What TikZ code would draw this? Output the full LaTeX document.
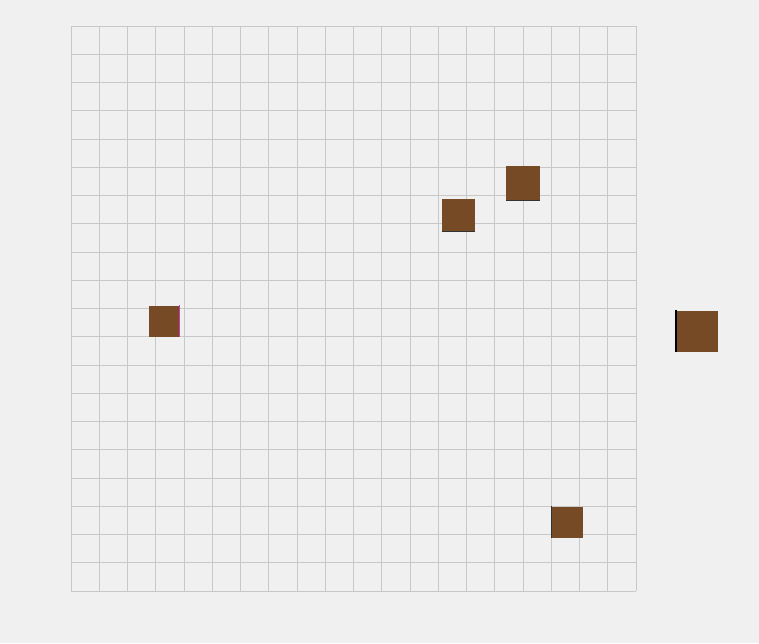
\documentclass[tikz,border=0pt]{standalone}
\usepackage{tikz}
\usetikzlibrary{positioning}
\definecolor{bg}{RGB}{240,240,240}
\definecolor{gridc}{RGB}{200,200,200}
\definecolor{crate}{RGB}{118,74,36}
\definecolor{edgepink}{RGB}{200,60,170}

\tikzset{cratebox/.style={fill=crate,inner sep=0pt,minimum width=#1,minimum height=#1}}

\begin{document}
\begin{tikzpicture}[x=0.02cm,y=-0.02cm]
  \fill[bg] (0,0) rectangle (759,643);
  \useasboundingbox (0,0) rectangle (759,643);
  \foreach \i in {0,...,20} {
    \draw[gridc,line width=0.4pt] (71+\i*28.25,26) -- (71+\i*28.25,591);
    \draw[gridc,line width=0.4pt] (71,26+\i*28.25) -- (636,26+\i*28.25);
  }
  \node[cratebox=0.66cm] (crateA) at (458.5,215) {};
  \node[cratebox=0.67cm] (crateB) at (523,183) {};
  \node[cratebox=0.62cm] (crateC) at (164,321) {};
  \node[cratebox=0.82cm] (crateD) at (697,331) {};
  \node[cratebox=0.62cm] (crateE) at (567.5,522) {};
  \draw[black!80,line width=0.6pt] (crateA.south west) -- (crateA.south east);
  \draw[black!80,line width=0.6pt] (crateB.south west) -- (crateB.south east);
  \draw[edgepink,line width=0.6pt] (crateC.north east) -- (crateC.south east);
  \draw[black,line width=1pt] (crateD.north west) -- (crateD.south west);
  \draw[black!80,line width=0.6pt] (crateE.north west) -- (crateE.south west);
\end{tikzpicture}
\end{document}
